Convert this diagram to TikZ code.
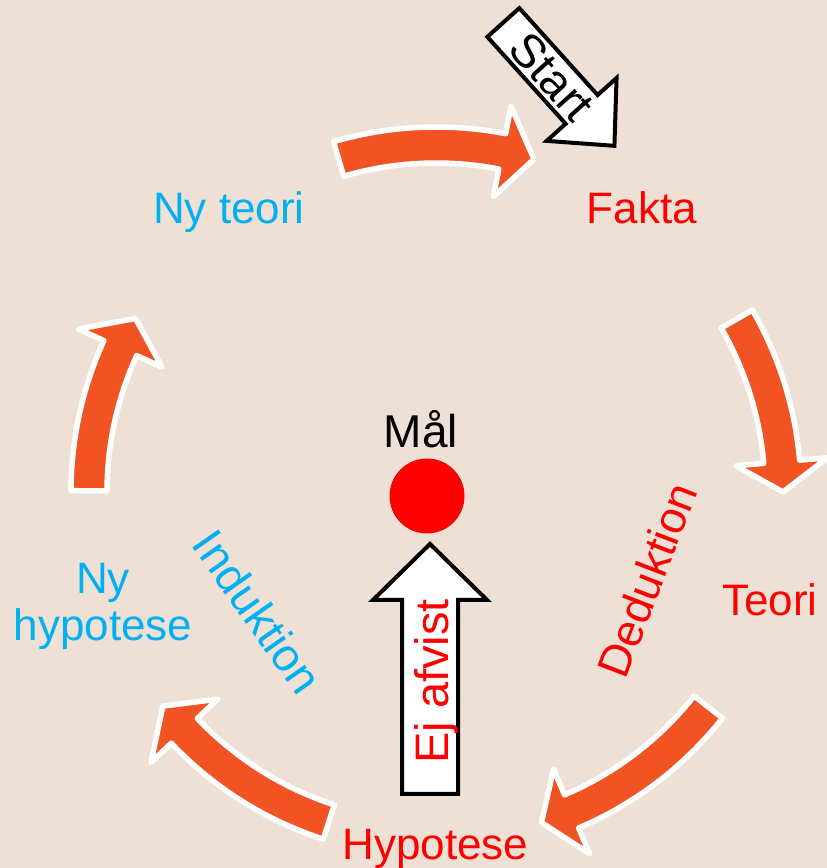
\documentclass[tikz,border=0pt]{standalone}
\usepackage{fontspec}
\setmainfont{Liberation Sans}
\definecolor{bgc}{RGB}{238,224,213}
\definecolor{orc}{RGB}{241,83,35}
\definecolor{cyc}{RGB}{0,176,240}
\definecolor{rdc}{RGB}{255,0,0}
\newcommand{\orarrow}[3]{%
  \draw[orarr] (#1:365pt) arc[start angle=#1, end angle=#2, radius=365pt]
    -- (#2:393pt) -- (#3:347pt) -- (#2:301pt) -- (#2:329pt)
    arc[start angle=#2, end angle=#1, radius=329pt] -- cycle;}
\begin{document}
\begin{tikzpicture}[x=1pt,y=1pt,
  orarr/.style={fill=orc, draw=white, line width=5.5pt, line join=round},
  blkarr/.style={fill=white, draw=black, line width=4pt, line join=miter},
  txt/.style={inner sep=0pt, font=\fontsize{44}{47}\selectfont},
  bigtxt/.style={inner sep=0pt, font=\fontsize{47}{47}\selectfont}]
\useasboundingbox (0,0) rectangle (827,868);
\fill[bgc] (0,0) rectangle (827,868);
% cycle arrows
\begin{scope}[shift={(436,376)}]
  \orarrow{106.3}{79}{73.6}
  \orarrow{29.9}{5}{0}
  \orarrow{-38.3}{-67}{-72.3}
  \orarrow{-108}{-136.5}{-141.9}
  \orarrow{179.8}{155.5}{150}
\end{scope}
% start arrow
\begin{scope}[shift={(502,847)}, rotate=-48]
  \draw[blkarr] (2,21.5) -- (119,21.5) -- (119,47) -- (168,0) -- (119,-47) -- (119,-21.5) -- (2,-21.5) -- cycle;
  \node[bigtxt, rotate=-48] (start) at (75,0) {Start};
\end{scope}
% goal
\node[circle, fill=rdc, minimum size=75pt, inner sep=0pt] (goal) at (427,372) {};
\node[txt, anchor=base, font=\fontsize{46}{46}\selectfont] (maal) at (421,420) {Mål};
% ej afvist arrow
\draw[blkarr] (402,74) -- (402,268) -- (373,268) -- (430,324) -- (487,268) -- (458,268) -- (458,74) -- cycle;
\node[bigtxt, text=rdc, rotate=90, anchor=base] (ejafvist) at (448,186.5) {Ej afvist};
% labels
\node[txt, text=cyc, anchor=base] (nyteori) at (229,644) {Ny teori};
\node[txt, text=rdc, anchor=base] (fakta) at (642,644) {Fakta};
\node[txt, text=rdc, anchor=base] (teori) at (770,252) {Teori};
\node[txt, text=rdc, anchor=base] (hypotese) at (435.5,9) {Hypotese};
\node[txt, text=cyc, anchor=north, align=center] (nyhyp) at (103,305) {Ny\\hypotese};
\node[txt, text=cyc, rotate=-55, font=\fontsize{46}{46}\selectfont] (induktion) at (258,256) {Induktion};
\node[txt, text=rdc, rotate=69, font=\fontsize{45}{45}\selectfont] (deduktion) at (647,288) {Deduktion};
\end{tikzpicture}
\end{document}
